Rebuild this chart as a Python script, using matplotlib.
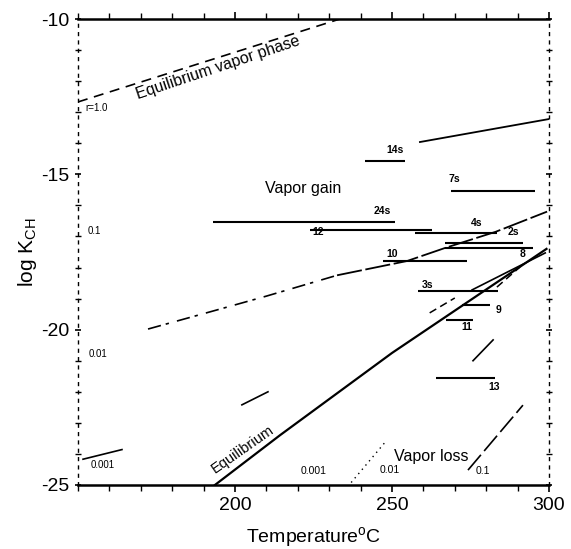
import matplotlib
matplotlib.use("Agg")
import matplotlib.pyplot as plt
import numpy as np
from matplotlib.ticker import MultipleLocator, FixedLocator

plt.rcParams['font.family'] = ['Liberation Sans', 'DejaVu Sans']

# ---- data (temperature in degC, log K_CH) ----
# horizontal experimental segments
seg_names = ["14s", "7s", "24s", "12", "4s", "2s", "8", "10", "3s", "9", "11", "13"]
seg_t0 = [241.4, 268.8, 193.0, 223.9, 257.3, 266.9, 266.9, 247.1, 258.3, 272.3, 267.2, 264.0]
seg_t1 = [254.1, 295.5, 251.0, 262.7, 283.4, 291.7, 294.9, 273.9, 283.8, 281.2, 275.8, 282.8]
seg_y = [-14.57, -15.54, -16.53, -16.79, -16.89, -17.20, -17.37, -17.79, -18.75, -19.20, -19.69, -21.55]
seg_label_t = [251.0, 270.0, 246.8, 226.4, 277.0, 288.5, 291.7, 250.0, 261.2, 283.8, 273.9, 282.5]
seg_label_y = [-14.38, -15.30, -16.33, -17.02, -16.74, -17.03, -17.55, -17.55, -18.55, -19.38, -19.93, -21.83]

# equilibrium curve
eq_t = [193.6, 214.3, 250.0, 299.2]
eq_y = [-25.0, -23.4, -20.75, -17.4]

# equilibrium vapor phase (r = 1.0)
vap_t = [150.0, 233.4]
vap_y = [-12.67, -10.0]

# r = 0.1 boundary curve (vapor gain)
r01_t = [172.3, 193.0, 210.0, 232.5, 254.8, 266.9, 283.0, 299.4]
r01_y = [-19.98, -19.40, -18.92, -18.25, -17.79, -17.37, -16.85, -16.20]

# upper right sloped segment
up_t = [258.9, 300.0]
up_y = [-13.96, -13.22]

# short sloped segments
short_t = [[151.6, 164.0], [202.2, 210.5], [275.8, 282.2], [275.5, 298.8]]
short_y = [[-24.17, -23.86], [-22.42, -22.0], [-21.0, -20.33], [-18.72, -17.53]]
# short dashed segments
dash_t = [[262.0, 270.0], [283.4, 290.8]]
dash_y = [[-19.46, -18.98], [-18.63, -17.98]]

# vapor loss 0.1 line
loss_t = [274.2, 291.7]
loss_y = [-24.52, -22.43]
# vapor loss 0.01 dotted line
loss2_t = [237.0, 243.0, 248.0]
loss2_y = [-24.92, -24.2, -23.6]

fig = plt.figure(figsize=(5.71, 5.49), dpi=100)
ax = fig.add_axes([78/571, 1-485/549, (549-78)/571, (485-19)/549])
ax.set_xlim(150, 300)
ax.set_ylim(-25, -10)

k = 'black'
for t0, t1, y in zip(seg_t0, seg_t1, seg_y):
    ax.plot([t0, t1], [y, y], color=k, lw=1.5, solid_capstyle='butt')
for name, lt, ly in zip(seg_names, seg_label_t, seg_label_y):
    ax.text(lt, ly, name, fontsize=7.5, fontweight='bold', ha='center',
            va='bottom' if ly > -17.3 else 'center')

ax.plot(eq_t, eq_y, color=k, lw=1.6)
ax.plot(vap_t, vap_y, color=k, lw=1.2, dashes=(6, 4))
ax.plot(r01_t[:4], r01_y[:4], color=k, lw=1.2, dashes=(8, 3, 2, 5))
ax.plot(r01_t[3:], r01_y[3:], color=k, lw=1.3, dashes=(14, 2))
ax.plot(up_t, up_y, color=k, lw=1.3)
for tt, yy in zip(short_t, short_y):
    ax.plot(tt, yy, color=k, lw=1.2)
for tt, yy in zip(dash_t, dash_y):
    ax.plot(tt, yy, color=k, lw=1.1, dashes=(5, 3))
ax.plot(loss_t, loss_y, color=k, lw=1.2, dashes=(12, 3))
ax.plot(loss2_t, loss2_y, color=k, lw=1.0, dashes=(1, 3))

# annotations
ax.text(194.5, -11.55, "Equilibrium vapor phase", fontsize=11.5, rotation=18.5,
        ha='center', va='center', rotation_mode='anchor')
ax.text(202.6, -23.84, "Equilibrium", fontsize=10.5, rotation=35,
        ha='center', va='center', rotation_mode='anchor')
ax.text(221.7, -15.47, "Vapor gain", fontsize=11.5, ha='center', va='center')
ax.text(262.4, -24.07, "Vapor loss", fontsize=11.5, ha='center', va='center')
ax.text(152.5, -12.85, "r=1.0", fontsize=7, ha='left', va='center')
ax.text(153.0, -16.82, "0.1", fontsize=7, ha='left', va='center')
ax.text(153.5, -20.78, "0.01", fontsize=7, ha='left', va='center')
ax.text(154.0, -24.35, "0.001", fontsize=7, ha='left', va='center')
ax.text(224.9, -24.55, "0.001", fontsize=7.5, ha='center', va='center')
ax.text(249.4, -24.52, "0.01", fontsize=7.5, ha='center', va='center')
ax.text(279.0, -24.55, "0.1", fontsize=7.5, ha='center', va='center')

# axes styling
ax.xaxis.set_major_locator(FixedLocator([200, 250, 300]))
ax.xaxis.set_minor_locator(MultipleLocator(10))
ax.yaxis.set_major_locator(FixedLocator([-10, -15, -20, -25]))
ax.yaxis.set_minor_locator(MultipleLocator(1))
ax.set_xticklabels(["200", "250", "300"])
ax.set_yticklabels(["-10", "-15", "-20", "-25"])
ax.tick_params(axis='both', which='major', labelsize=14, length=5, width=1.2, direction='out')
ax.tick_params(axis='both', which='minor', length=4, width=1.0, direction='out')
ax.tick_params(top=True, right=True, which='both')
ax.tick_params(axis='y', which='both', right=True, direction='inout')
for side in ['top', 'bottom']:
    ax.spines[side].set_linewidth(1.8)
for side in ['left', 'right']:
    ax.spines[side].set_linewidth(1.0)
    ax.spines[side].set_linestyle((0, (2, 4)))

ax.set_xlabel("Temperature$\\mathregular{^o}$C", fontsize=14, labelpad=8)
ax.set_ylabel("log K$_\\mathregular{CH}$", fontsize=15, labelpad=2)

fig.savefig("out.png", dpi=100)
